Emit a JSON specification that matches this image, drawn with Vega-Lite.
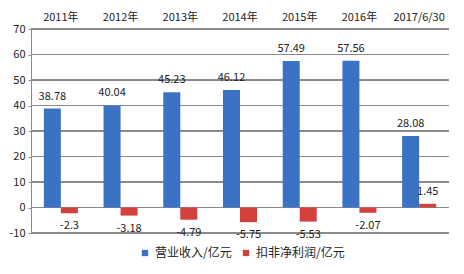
{
  "$schema": "https://vega.github.io/schema/vega-lite/v6.json",
  "width": 418,
  "height": 204,
  "padding": {"left": 8, "top": 11, "right": 14, "bottom": 10},
  "background": "white",
  "config": {
    "view": {"stroke": null},
    "font": "Noto Sans CJK SC",
    "axis": {"labelFont": "Noto Sans CJK SC", "labelColor": "#222", "labelFontSize": 11},
    "axisY": {"grid": false, "domain": true, "domainColor": "#8a8a8a", "ticks": true, "tickColor": "#8a8a8a", "tickSize": 3, "labelPadding": 3, "labelOverlap": false, "tickCount": 8, "title": null},
    "rule": {"color": "#8a8a8a", "strokeWidth": 1},
    "legend": {"labelFont": "Noto Sans CJK SC"}
  },
  "data": {
    "values": [
      {"year": "2011年", "series": "营业收入/亿元", "value": 38.78},
      {"year": "2011年", "series": "扣非净利润/亿元", "value": -2.3},
      {"year": "2012年", "series": "营业收入/亿元", "value": 40.04},
      {"year": "2012年", "series": "扣非净利润/亿元", "value": -3.18},
      {"year": "2013年", "series": "营业收入/亿元", "value": 45.23},
      {"year": "2013年", "series": "扣非净利润/亿元", "value": -4.79},
      {"year": "2014年", "series": "营业收入/亿元", "value": 46.12},
      {"year": "2014年", "series": "扣非净利润/亿元", "value": -5.75},
      {"year": "2015年", "series": "营业收入/亿元", "value": 57.49},
      {"year": "2015年", "series": "扣非净利润/亿元", "value": -5.53},
      {"year": "2016年", "series": "营业收入/亿元", "value": 57.56},
      {"year": "2016年", "series": "扣非净利润/亿元", "value": -2.07},
      {"year": "2017/6/30", "series": "营业收入/亿元", "value": 28.08},
      {"year": "2017/6/30", "series": "扣非净利润/亿元", "value": 1.45}
    ]
  },
  "layer": [
    {"mark": {"type": "rule"}, "encoding": {"y": {"datum": -10}}},
    {"mark": {"type": "rule"}, "encoding": {"y": {"datum": 0}}},
    {"mark": {"type": "rule"}, "encoding": {"y": {"datum": 10}}},
    {"mark": {"type": "rule"}, "encoding": {"y": {"datum": 20}}},
    {"mark": {"type": "rule"}, "encoding": {"y": {"datum": 30}}},
    {"mark": {"type": "rule"}, "encoding": {"y": {"datum": 40}}},
    {"mark": {"type": "rule"}, "encoding": {"y": {"datum": 50}}},
    {"mark": {"type": "rule"}, "encoding": {"y": {"datum": 60}}},
    {"mark": {"type": "rule"}, "encoding": {"y": {"datum": 70}}},
    {
      "mark": {"type": "bar"},
      "encoding": {
        "x": {
          "field": "year", "type": "nominal", "sort": null,
          "scale": {"paddingInner": 0.43, "paddingOuter": 0.215},
          "axis": {"orient": "top", "title": null, "labelAngle": 0, "ticks": false, "domain": false, "grid": false, "labelPadding": 7}
        },
        "xOffset": {"field": "series", "type": "nominal", "sort": ["营业收入/亿元", "扣非净利润/亿元"], "scale": {"paddingInner": 0}},
        "y": {
          "field": "value", "type": "quantitative",
          "scale": {"domain": [-10, 70], "nice": false, "zero": false},
          "axis": {"title": null, "labelExpr": "toString(datum.value)"}
        },
        "color": {
          "field": "series", "type": "nominal", "sort": ["营业收入/亿元", "扣非净利润/亿元"],
          "scale": {"range": ["#3c72c4", "#d4403c"]},
          "legend": {"title": null, "orient": "none", "legendX": 108, "legendY": 218, "direction": "horizontal", "symbolType": "square", "symbolSize": 40, "labelFontSize": 12, "labelColor": "#222", "columnPadding": 8, "symbolStrokeWidth": 0}
        }
      }
    },
    {
      "transform": [{"filter": "datum.value >= 0"}],
      "mark": {"type": "text", "dy": -12, "fontSize": 11, "color": "#222", "baseline": "middle"},
      "encoding": {
        "x": {"field": "year", "type": "nominal", "sort": null},
        "xOffset": {"field": "series", "type": "nominal", "sort": ["营业收入/亿元", "扣非净利润/亿元"]},
        "y": {"field": "value", "type": "quantitative"},
        "text": {"field": "value", "type": "nominal"}
      }
    },
    {
      "transform": [{"filter": "datum.value < 0"}],
      "mark": {"type": "text", "dy": 13, "fontSize": 11, "color": "#222", "baseline": "middle"},
      "encoding": {
        "x": {"field": "year", "type": "nominal", "sort": null},
        "xOffset": {"field": "series", "type": "nominal", "sort": ["营业收入/亿元", "扣非净利润/亿元"]},
        "y": {"field": "value", "type": "quantitative"},
        "text": {"field": "value", "type": "nominal"}
      }
    }
  ]
}
